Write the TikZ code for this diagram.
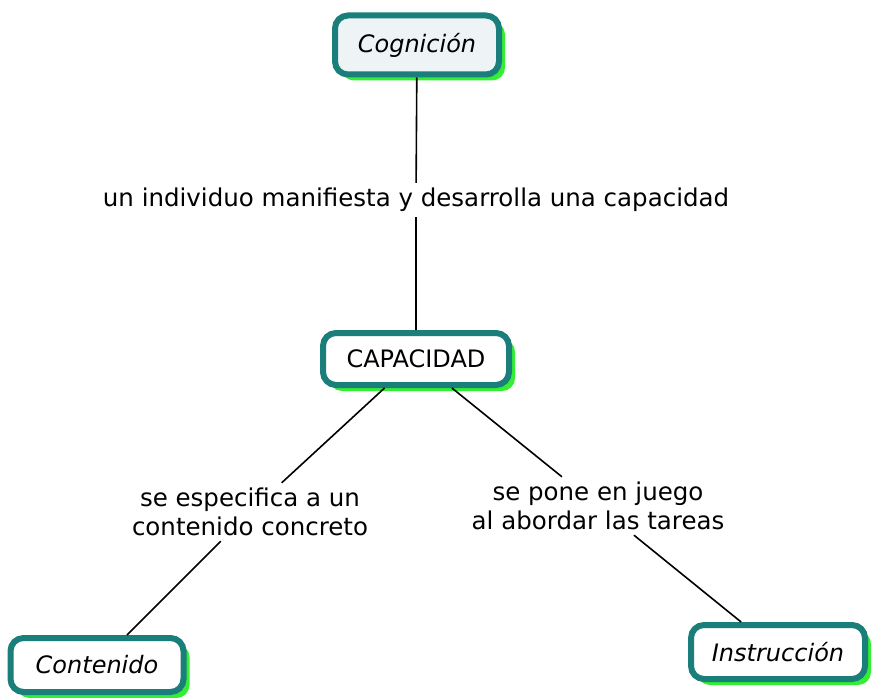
\documentclass[tikz,border=0pt]{standalone}
\usepackage{fontspec}
\setmainfont{DejaVu Sans}
\usetikzlibrary{shadows}
\definecolor{tealb}{HTML}{1A7F7A}
\definecolor{shadowg}{HTML}{33EE33}
\definecolor{lightf}{HTML}{EEF4F6}
\begin{document}
\begin{tikzpicture}[x=1pt,y=-1pt,
  concept/.style={draw=tealb, line width=6pt, rounded corners=13pt, fill=white,
    general shadow={fill=shadowg, shadow xshift=6pt, shadow yshift=-6pt},
    font=\fontsize{24}{28}\selectfont, inner sep=0pt},
  lbl/.style={font=\fontsize{24.5}{29}\selectfont, align=center, inner sep=5pt},
  conn/.style={line width=1.6pt, black}]
\useasboundingbox (0,0) rectangle (872,698);
\node[concept, fill=lightf, minimum width=164pt, minimum height=59pt] (cog) at (417,45) {\itshape Cognición};
\node[concept, minimum width=186pt, minimum height=52pt] (cap) at (416,359) {CAPACIDAD};
\node[concept, minimum width=173pt, minimum height=54pt] (con) at (97,665) {\itshape Contenido};
\node[concept, minimum width=174pt, minimum height=54pt] (ins) at (778,652) {\itshape Instrucción};
\node[lbl] (l1) at (416,200) {un individuo manifiesta y desarrolla una capacidad};
\node[lbl] (l2) at (250,512) {se especifica a un\\contenido concreto};
\node[lbl] (l3) at (598,506) {se pone en juego\\al abordar las tareas};
\draw[conn] (cog) -- (l1) -- (cap);
\draw[conn] (cap) -- (l2) -- (con);
\draw[conn] (cap) -- (l3) -- (ins);
\end{tikzpicture}
\end{document}
